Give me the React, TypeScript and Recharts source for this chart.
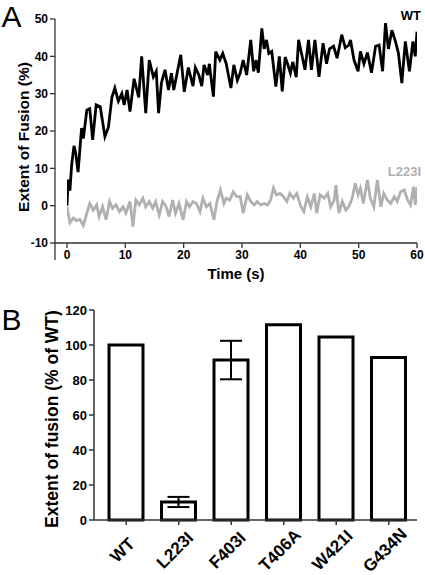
import React from 'react';
import { LineChart, Line, XAxis, YAxis, BarChart, Bar, ErrorBar, Label } from 'recharts';

// ---------- Panel A data ----------
const timeTicks = [0, 10, 20, 30, 40, 50, 60];
const fusionTicks = [-10, 0, 10, 20, 30, 40, 50];

const wtTime = [0, 0.2, 0.5, 0.8, 1.2, 1.5, 1.9, 2.5, 2.8, 3.4, 3.9, 4.4, 5.0, 5.7, 6.5, 7.1, 7.7, 8.2, 8.8, 9.4, 9.8, 10.3, 10.8, 11.5, 12.3, 12.8, 13.5, 14.1, 14.8, 15.3, 15.7, 16.2, 16.8, 17.4, 17.9, 18.3, 19.5, 20.1, 20.8, 21.6, 22.0, 22.6, 23.1, 23.5, 24.1, 24.4, 25.1, 25.5, 26.2, 26.7, 27.3, 28.1, 28.6, 29.2, 29.7, 30.2, 30.8, 31.5, 32.0, 32.4, 32.8, 33.4, 33.8, 34.2, 34.6, 35.1, 35.8, 36.4, 36.9, 37.4, 37.8, 38.3, 38.7, 39.3, 39.7, 40.2, 40.8, 41.4, 41.9, 42.5, 43.2, 43.9, 44.5, 45.0, 45.7, 46.3, 47.1, 47.7, 48.3, 48.6, 49.2, 49.9, 50.3, 50.9, 51.5, 52.2, 52.9, 53.5, 54.1, 54.6, 55.1, 55.7, 56.3, 56.8, 57.4, 58.0, 58.7, 59.3, 59.7, 60.0];
const wtFusion = [0, 7, 4, 11, 16, 14, 9, 20.8, 18, 25.6, 26, 17.6, 27, 26.5, 18.5, 21, 29, 31.5, 28, 30, 27, 31, 25.2, 34, 29, 40, 24.8, 39, 34.5, 36, 24.8, 33, 36.4, 31, 35.5, 31, 40.4, 30.5, 37, 32, 37, 35, 32, 37.7, 35, 38, 29.2, 41.3, 39, 40.8, 38, 31.5, 37.7, 33.6, 35.6, 39, 35, 44.4, 36, 39, 35.6, 47.5, 42, 44.4, 40.8, 41.3, 31.9, 40, 30.6, 39.8, 38, 35.5, 38.5, 34.4, 44.4, 40.8, 36.4, 44.4, 36.4, 44.4, 34.5, 43.5, 38, 42, 42.7, 39.5, 45.8, 42.3, 43, 44.4, 39, 36, 41.3, 38, 41, 35.6, 42.7, 43, 36, 48.9, 42, 47, 44, 41, 32.8, 44, 36, 44, 40, 46.6];

const l223iTime = [0, 0.5, 1.1, 1.6, 2.2, 2.8, 3.4, 3.9, 4.5, 5.1, 5.5, 6.1, 6.7, 7.3, 7.8, 8.4, 9.0, 9.6, 10.1, 10.8, 11.3, 11.8, 12.4, 13.0, 13.5, 14.1, 14.7, 15.2, 15.8, 16.4, 17.0, 17.5, 18.1, 18.6, 19.2, 19.9, 20.5, 21.0, 21.6, 22.2, 22.8, 23.3, 23.9, 24.5, 25.2, 25.7, 26.3, 26.9, 27.3, 27.9, 28.5, 29.1, 29.7, 30.2, 30.9, 31.5, 32.1, 32.6, 33.2, 33.8, 34.4, 34.9, 35.4, 35.9, 36.5, 37.1, 37.7, 38.2, 38.8, 39.4, 40.1, 40.6, 41.2, 41.8, 42.4, 42.8, 43.4, 44.1, 44.7, 45.2, 45.8, 46.1, 46.6, 47.2, 47.8, 48.3, 48.9, 49.4, 49.9, 50.3, 50.8, 51.5, 52.0, 52.6, 53.2, 53.8, 54.3, 54.9, 55.5, 56.1, 56.6, 57.2, 57.8, 58.4, 58.9, 59.4, 59.7, 60.0];
const l223iFusion = [-0.3, -4.6, -3.3, -4, -3.7, -5.3, -2, 0.6, -1.2, 0.2, -2.9, -0.3, -3.8, 1.1, -0.7, 0.2, -1.6, -0.3, -2, 1.1, -5.6, 1.5, 0.2, 2, -0.3, 1.1, -0.7, 1.1, -2.5, 1.1, -0.3, -2.9, 1.5, -2, 0.6, -3.8, 1.1, -0.3, 1.1, 0.6, -1.6, 2, -0.3, 0.6, -3.8, 1.1, 4.2, 0.6, 2, 1.5, 3.7, 2.4, 2.4, -2, 2.9, 1.1, 0.2, 1.1, 0.2, 0.6, 0.2, 1.5, 4.7, 2.9, 3.3, 2.4, 1.1, 3.3, 2, 3.3, -0.3, -1.6, 2.4, -0.3, 3.3, -2, 2.9, 2, 3.3, -0.3, 1.5, 5.5, -2, 1.1, -1.2, -0.3, 2, 6, 2.9, 4.7, 0.6, 6.9, 2, -0.3, 6.9, -0.3, 3.3, 1.5, 0.6, 2.4, 1.1, 3.7, 4.2, 1.5, 0.2, 5.1, 0.2, 5];

// ---------- Panel B data ----------
const mutants = ['WT', 'L223I', 'F403I', 'T406A', 'W421I', 'G434N'];
const relFusion = [100, 10.3, 91.4, 111.6, 104.6, 92.9];
const relError = [0, 2.9, 11, 0, 0, 0];
const percentTicks = [0, 20, 40, 60, 80, 100, 120];

const wtData = wtTime.map((t, i) => ({ t, v: wtFusion[i] }));
const l223iData = l223iTime.map((t, i) => ({ t, v: l223iFusion[i] }));
const barData = mutants.map((name, i) => ({ name, value: relFusion[i], err: relError[i] }));

const FONT = '"Liberation Sans", Arial, Helvetica, sans-serif';
const AXIS = '#333';
const GRAY = '#b0b0b0';

const tickStyleA = { fill: '#000', fontSize: 12, fontWeight: 'bold', fontFamily: FONT };
const tickStyleB = { fill: '#000', fontSize: 13, fontWeight: 'bold', fontFamily: FONT };

const TimeTitle = () => (
  <text x={236} y={279} textAnchor="middle" fontSize={15} fontWeight="bold" fontFamily={FONT} fill="#000">
    Time (s)
  </text>
);

const FusionTitleA = () => (
  <text x={24} y={137} dy="0.35em" textAnchor="middle" transform="rotate(-90, 24, 137)" fontSize={15.5} fontWeight="bold" fontFamily={FONT} fill="#000">
    Extent of Fusion (%)
  </text>
);

const FusionTitleB = () => (
  <text x={52} y={129} dy="0.35em" textAnchor="middle" transform="rotate(-90, 52, 129)" fontSize={17.5} fontWeight="bold" fontFamily={FONT} fill="#000">
    Extent of fusion (% of WT)
  </text>
);

const MutantTick = (props: any) => {
  const { x, y, payload } = props;
  const cx = x - 4;
  const cy = y + 23;
  return (
    <text x={cx} y={cy} dy="0.35em" textAnchor="middle" transform={`rotate(-45, ${cx}, ${cy})`} fontSize={17} fontWeight="bold" fontFamily={FONT} fill="#000">
      {payload.value}
    </text>
  );
};

export default function App() {
  return (
    <div style={{ position: 'absolute', left: 0, top: 0, width: 425, height: 575, background: '#fff', fontFamily: FONT }}>
      <div style={{ position: 'absolute', left: 0, top: 0 }}>
        <LineChart width={425} height={290} margin={{ top: 19, right: 8, bottom: 7, left: 8 }}>
          <XAxis
            type="number"
            dataKey="t"
            domain={[0, 60]}
            ticks={timeTicks}
            allowDataOverflow
            padding={{ left: 12, right: 0 }}
            height={40}
            tickSize={5}
            tickMargin={2}
            stroke={AXIS}
            strokeWidth={1.3}
            tick={tickStyleA}
          >
            <Label content={<TimeTitle />} />
          </XAxis>
          <YAxis
            type="number"
            domain={[-10, 50]}
            ticks={fusionTicks}
            allowDataOverflow
            width={47}
            tickSize={5}
            tickMargin={2}
            stroke={AXIS}
            strokeWidth={1.3}
            tick={tickStyleA}
          >
            <Label content={<FusionTitleA />} />
          </YAxis>
          <Line data={l223iData} dataKey="v" type="linear" stroke={GRAY} strokeWidth={2.8} dot={false} isAnimationActive={false} />
          <Line data={wtData} dataKey="v" type="linear" stroke="#000" strokeWidth={2.8} dot={false} isAnimationActive={false} />
        </LineChart>
      </div>
      <div style={{ position: 'absolute', left: 0, top: 290 }}>
        <BarChart width={425} height={285} data={barData} margin={{ top: 20, right: 8, bottom: 5, left: 34 }} barSize={34}>
          <XAxis
            dataKey="name"
            type="category"
            interval={0}
            padding={{ left: 6, right: 2 }}
            height={50}
            tickSize={5}
            tickMargin={2}
            stroke={AXIS}
            strokeWidth={1.5}
            tick={<MutantTick />}
          />
          <YAxis
            type="number"
            domain={[0, 120]}
            ticks={percentTicks}
            width={60}
            tickSize={5}
            tickMargin={2}
            stroke={AXIS}
            strokeWidth={1.5}
            tick={tickStyleB}
          >
            <Label content={<FusionTitleB />} />
          </YAxis>
          <Bar dataKey="value" fill="#fff" stroke="#000" strokeWidth={3} isAnimationActive={false}>
            <ErrorBar dataKey="err" width={11} stroke="#000" strokeWidth={2} />
          </Bar>
        </BarChart>
      </div>
      <svg width={425} height={575} style={{ position: 'absolute', left: 0, top: 0, pointerEvents: 'none' }}>
        <line x1={55} y1={243} x2={55} y2={260} stroke={AXIS} strokeWidth={1.3} />
        <text x={1.5} y={27} fontSize={30} fontFamily={FONT} fill="#000">A</text>
        <text x={1.5} y={330} fontSize={30} fontFamily={FONT} fill="#000">B</text>
        <text x={421} y={20} textAnchor="end" fontSize={13} fontWeight="bold" fontFamily={FONT} fill="#000">WT</text>
        <text x={421} y={176} textAnchor="end" fontSize={13} fontWeight="bold" fontFamily={FONT} fill={GRAY}>L223I</text>
      </svg>
    </div>
  );
}
